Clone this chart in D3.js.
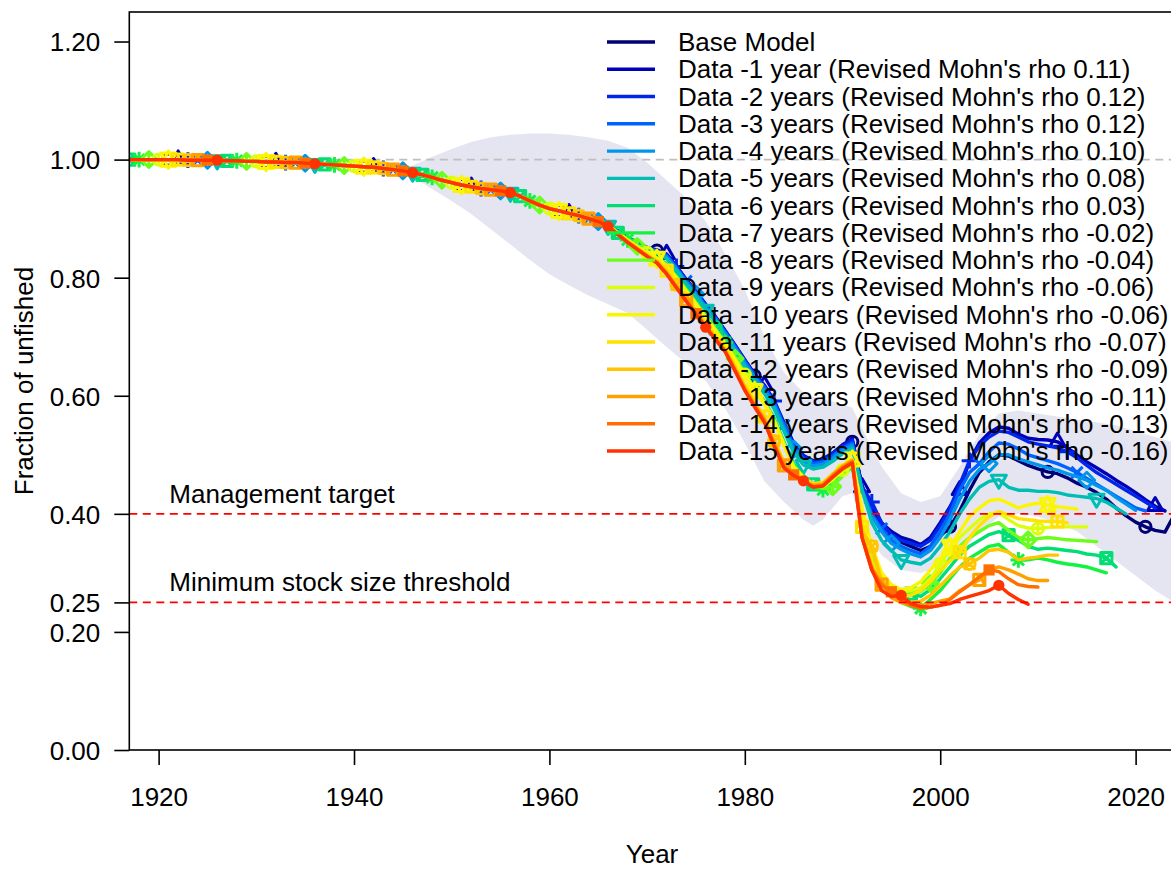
<!DOCTYPE html>
<html>
<head>
<meta charset="utf-8">
<script src="https://cdn.jsdelivr.net/npm/d3@7"></script>
<style>
  body { margin: 0; background: #fff; }
  svg text { font-family: "Liberation Sans", Arial, sans-serif; }
</style>
</head>
<body>
<svg id="chart" width="1171" height="870"></svg>
<script>
// ---------------- DATA ----------------
// Shared history 1917-1965 (all runs coincide)
const commonStartYear = 1917;
const commonValues = [1.000,1.000,1.000,1.000,1.000,1.000,0.999,0.999,0.999,0.999,
  0.998,0.998,0.997,0.997,0.996,0.996,0.995,0.995,0.994,0.993,
  0.992,0.991,0.990,0.989,0.988,0.987,0.985,0.983,0.981,0.978,
  0.974,0.970,0.965,0.961,0.957,0.954,0.951,0.949,0.947,0.944,
  0.938,0.930,0.923,0.917,0.913,0.909,0.905,0.900,0.895];

// Each run from 1966 to its final year
const baseModel = [0.889,0.878,0.867,0.858,0.850,0.846,0.838,0.818,0.795,0.775,0.753,0.732,0.708,0.683,0.658,0.634,0.614,0.588,0.550,0.515,0.495,0.487,0.490,0.500,0.513,0.522,
  0.448,0.405,0.378,0.362,0.352,0.345,0.338,0.345,0.362,0.378,0.405,0.440,0.470,0.488,0.500,0.498,0.490,0.482,0.476,0.471,0.468,0.461,0.452,0.445,0.436,0.425,0.410,0.397,0.386,0.378,0.372,0.369,0.400];
const dataMinus1 = [0.889,0.879,0.868,0.859,0.851,0.847,0.840,0.820,0.797,0.777,0.755,0.734,0.710,0.686,0.661,0.637,0.618,0.592,0.555,0.520,0.499,0.490,0.493,0.503,0.517,0.527,
  0.445,0.410,0.385,0.370,0.360,0.355,0.348,0.360,0.385,0.412,0.440,0.490,0.520,0.537,0.547,0.545,0.535,0.528,0.526,0.525,0.522,0.512,0.500,0.488,0.478,0.468,0.457,0.447,0.436,0.424,0.413,0.405];
const dataMinus2 = [0.889,0.879,0.868,0.859,0.851,0.846,0.839,0.819,0.796,0.776,0.754,0.733,0.709,0.685,0.660,0.636,0.617,0.591,0.553,0.518,0.497,0.489,0.492,0.502,0.515,0.525,
  0.445,0.420,0.385,0.365,0.355,0.350,0.345,0.355,0.380,0.410,0.450,0.490,0.515,0.530,0.540,0.538,0.530,0.522,0.518,0.515,0.512,0.505,0.495,0.482,0.470,0.460,0.450,0.440,0.430,0.420,0.410];
const dataMinus3 = [0.889,0.878,0.867,0.858,0.850,0.845,0.837,0.817,0.794,0.774,0.752,0.731,0.707,0.683,0.658,0.634,0.614,0.588,0.550,0.514,0.493,0.485,0.488,0.498,0.511,0.520,
  0.440,0.400,0.375,0.355,0.345,0.338,0.332,0.345,0.370,0.400,0.440,0.470,0.485,0.505,0.520,0.518,0.510,0.500,0.495,0.490,0.485,0.478,0.470,0.460,0.450,0.440,0.430,0.420,0.410,0.405];
const dataMinus4 = [0.889,0.878,0.867,0.857,0.849,0.844,0.835,0.815,0.792,0.772,0.750,0.729,0.705,0.680,0.655,0.631,0.610,0.584,0.546,0.510,0.489,0.481,0.484,0.494,0.507,0.516,
  0.440,0.395,0.370,0.350,0.340,0.332,0.327,0.338,0.360,0.390,0.425,0.455,0.475,0.485,0.500,0.500,0.493,0.488,0.483,0.478,0.474,0.468,0.463,0.457,0.448,0.440,0.428,0.417,0.406];
const dataMinus5 = [0.888,0.877,0.866,0.856,0.847,0.842,0.832,0.812,0.789,0.768,0.746,0.725,0.701,0.676,0.650,0.626,0.604,0.578,0.540,0.504,0.483,0.476,0.479,0.489,0.502,0.511,
  0.440,0.385,0.355,0.338,0.322,0.318,0.315,0.325,0.345,0.370,0.400,0.425,0.445,0.455,0.458,0.445,0.440,0.440,0.438,0.438,0.436,0.432,0.430,0.428,0.426,0.420,0.410,0.400];
const dataMinus6 = [0.888,0.876,0.864,0.853,0.843,0.835,0.823,0.803,0.781,0.759,0.736,0.714,0.691,0.665,0.639,0.613,0.591,0.562,0.522,0.485,0.465,0.450,0.445,0.450,0.466,0.482,
  0.400,0.335,0.290,0.275,0.268,0.265,0.260,0.272,0.290,0.310,0.330,0.345,0.355,0.365,0.370,0.364,0.355,0.345,0.340,0.342,0.340,0.338,0.336,0.332,0.330,0.325,0.310];
const dataMinus7 = [0.888,0.876,0.864,0.853,0.843,0.834,0.822,0.802,0.780,0.758,0.735,0.713,0.690,0.664,0.638,0.612,0.590,0.560,0.520,0.482,0.462,0.447,0.441,0.448,0.464,0.480,
  0.400,0.330,0.285,0.262,0.250,0.243,0.240,0.255,0.270,0.290,0.310,0.325,0.335,0.345,0.348,0.335,0.322,0.322,0.325,0.322,0.318,0.315,0.313,0.310,0.305,0.300];
const dataMinus8 = [0.888,0.876,0.864,0.853,0.842,0.833,0.821,0.801,0.779,0.757,0.734,0.712,0.689,0.663,0.637,0.611,0.589,0.559,0.519,0.481,0.461,0.447,0.443,0.446,0.466,0.483,
  0.400,0.335,0.290,0.272,0.265,0.265,0.268,0.282,0.300,0.325,0.345,0.360,0.370,0.380,0.385,0.372,0.360,0.356,0.358,0.360,0.358,0.356,0.355,0.354,0.353];
const dataMinus9 = [0.888,0.876,0.864,0.852,0.842,0.833,0.820,0.800,0.778,0.756,0.733,0.711,0.688,0.662,0.636,0.610,0.588,0.558,0.518,0.480,0.462,0.449,0.446,0.458,0.474,0.488,
  0.400,0.340,0.295,0.275,0.268,0.270,0.275,0.290,0.315,0.340,0.360,0.375,0.390,0.400,0.402,0.390,0.380,0.376,0.375,0.377,0.378,0.378,0.378,0.378];
const dataMinus10 = [0.888,0.876,0.863,0.852,0.841,0.832,0.819,0.799,0.777,0.755,0.732,0.710,0.687,0.661,0.634,0.608,0.586,0.556,0.516,0.479,0.462,0.450,0.449,0.462,0.478,0.492,
  0.410,0.345,0.300,0.280,0.272,0.275,0.285,0.305,0.325,0.344,0.370,0.395,0.410,0.422,0.425,0.418,0.410,0.415,0.418,0.415,0.412,0.410,0.408];
const dataMinus11 = [0.887,0.875,0.862,0.850,0.839,0.829,0.812,0.790,0.767,0.745,0.722,0.701,0.680,0.650,0.618,0.590,0.565,0.526,0.488,0.470,0.458,0.451,0.453,0.468,0.482,0.492,
  0.378,0.320,0.280,0.265,0.260,0.262,0.270,0.285,0.305,0.320,0.335,0.360,0.380,0.395,0.404,0.398,0.392,0.390,0.388,0.387,0.387,0.385];
const dataMinus12 = [0.887,0.874,0.861,0.849,0.838,0.828,0.810,0.788,0.765,0.743,0.720,0.699,0.678,0.648,0.615,0.587,0.562,0.523,0.485,0.469,0.457,0.449,0.451,0.467,0.481,0.491,
  0.370,0.345,0.285,0.260,0.252,0.250,0.252,0.262,0.278,0.295,0.310,0.315,0.325,0.338,0.340,0.335,0.322,0.325,0.327,0.330,0.330];
const dataMinus13 = [0.887,0.874,0.861,0.849,0.837,0.826,0.808,0.785,0.762,0.740,0.717,0.697,0.676,0.645,0.612,0.585,0.560,0.520,0.482,0.468,0.456,0.448,0.450,0.466,0.480,0.490,
  0.360,0.310,0.280,0.258,0.250,0.245,0.245,0.248,0.252,0.256,0.270,0.280,0.288,0.305,0.310,0.305,0.298,0.290,0.287,0.287];
const dataMinus14 = [0.887,0.874,0.860,0.848,0.836,0.825,0.807,0.784,0.761,0.739,0.716,0.696,0.675,0.643,0.610,0.583,0.557,0.517,0.480,0.466,0.455,0.446,0.448,0.464,0.478,0.488,
  0.360,0.305,0.280,0.268,0.255,0.245,0.240,0.242,0.245,0.255,0.268,0.280,0.293,0.305,0.302,0.290,0.280,0.277,0.276];
const dataMinus15 = [0.887,0.873,0.860,0.848,0.836,0.825,0.806,0.783,0.760,0.738,0.716,0.695,0.674,0.642,0.609,0.581,0.555,0.515,0.478,0.465,0.456,0.445,0.447,0.462,0.476,0.486,
  0.360,0.305,0.270,0.260,0.262,0.248,0.243,0.242,0.245,0.248,0.255,0.260,0.265,0.270,0.279,0.265,0.255,0.247];

const seriesLabels = ["Base Model",
  "Data -1 year (Revised Mohn's rho 0.11)",
  "Data -2 years (Revised Mohn's rho 0.12)",
  "Data -3 years (Revised Mohn's rho 0.12)",
  "Data -4 years (Revised Mohn's rho 0.10)",
  "Data -5 years (Revised Mohn's rho 0.08)",
  "Data -6 years (Revised Mohn's rho 0.03)",
  "Data -7 years (Revised Mohn's rho -0.02)",
  "Data -8 years (Revised Mohn's rho -0.04)",
  "Data -9 years (Revised Mohn's rho -0.06)",
  "Data -10 years (Revised Mohn's rho -0.06)",
  "Data -11 years (Revised Mohn's rho -0.07)",
  "Data -12 years (Revised Mohn's rho -0.09)",
  "Data -13 years (Revised Mohn's rho -0.11)",
  "Data -14 years (Revised Mohn's rho -0.13)",
  "Data -15 years (Revised Mohn's rho -0.16)"];
const seriesColors = ["#000075","#0000B4","#0026EA","#0063FF","#0096EA","#00BEB4","#02DD75","#13F240",
  "#6CFD1D","#DDFE0B","#FBF504","#FFE201","#FFC500","#FF9F00","#FF6E00","#FF3300"];
const seriesPch = [1,2,3,4,5,6,7,8,9,10,11,12,13,14,15,16];
const seriesValues = [baseModel,dataMinus1,dataMinus2,dataMinus3,dataMinus4,dataMinus5,dataMinus6,dataMinus7,
  dataMinus8,dataMinus9,dataMinus10,dataMinus11,dataMinus12,dataMinus13,dataMinus14,dataMinus15];
const firstPointYear = 1921, spacePoints = 10, staggerPoints = 1;

// Base-model uncertainty interval
const bandYears = [1944,1946,1948,1950,1952,1954,1956,1958,1960,1962,1964,1966,1968,1970,1972,1974,1976,1978,1980,1982,1984,1986,1987,1988,1990,1991,
  1992,1994,1996,1998,2000,2002,2004,2006,2008,2010,2012,2014,2016,2018,2020,2022,2024];
const bandUpper = [0.984,0.990,1.005,1.018,1.030,1.038,1.042,1.044,1.044,1.042,1.038,1.032,1.020,0.995,0.965,0.935,0.895,0.840,0.780,0.700,0.640,0.605,0.598,0.595,0.585,0.580,
  0.545,0.480,0.435,0.420,0.430,0.480,0.535,0.570,0.575,0.570,0.565,0.560,0.555,0.550,0.540,0.530,0.520];
const bandLower = [0.982,0.970,0.950,0.930,0.908,0.882,0.856,0.830,0.806,0.787,0.770,0.755,0.740,0.712,0.682,0.655,0.625,0.578,0.520,0.455,0.420,0.390,0.380,0.390,0.430,0.435,
  0.380,0.330,0.305,0.300,0.310,0.330,0.370,0.395,0.400,0.395,0.385,0.370,0.345,0.320,0.295,0.270,0.250];

const yTicks = [0, 0.2, 0.25, 0.4, 0.6, 0.8, 1.0, 1.2];
const xTicks = [1920, 1940, 1960, 1980, 2000, 2020];
const refLines = [{v: 0.4, label: "Management target"}, {v: 0.25, label: "Minimum stock size threshold"}];

// ---------------- DRAW ----------------
(function () {
const svg = d3.select("#chart");
const FS = 26;
const LW = 3.4;
const pL = 129.3, pR = 1174.7, pT = 12, pB = 750;
const x = d3.scaleLinear().domain([1917, 2024]).range([pL, pR]);
const y = d3.scaleLinear().domain([0, 1.25]).range([pB, pT]);

svg.append("defs").append("clipPath").attr("id", "plotclip")
  .append("rect").attr("x", pL).attr("y", pT).attr("width", pR - pL).attr("height", pB - pT);
const plot = svg.append("g").attr("clip-path", "url(#plotclip)");

// band
const bandData = bandYears.map((yr, i) => ({yr, lo: bandLower[i], hi: bandUpper[i]}));
plot.append("path").datum(bandData)
  .attr("d", d3.area().x(d => x(d.yr)).y0(d => y(d.lo)).y1(d => y(d.hi)))
  .attr("fill", "rgba(0,0,117,0.1)");

// unfished reference line
plot.append("line").attr("x1", pL).attr("x2", pR).attr("y1", y(1)).attr("y2", y(1))
  .attr("stroke", "#BEBEBE").attr("stroke-width", 1.6).attr("stroke-dasharray", "8,5.5");

// symbol generator (R pch)
const RAD = 5.6;
function pchPath(p) {
  const P = d3.path(), R = RAD, s2 = Math.SQRT2;
  const seg = (x1, y1, x2, y2) => { P.moveTo(x1, y1); P.lineTo(x2, y2); };
  const circ = r => { P.moveTo(r, 0); P.arc(0, 0, r, 0, 2 * Math.PI); };
  const sq = r => { P.rect(-r, -r, 2 * r, 2 * r); };
  const plus = r => { seg(-r, 0, r, 0); seg(0, -r, 0, r); };
  const cross = r => { seg(-r, -r, r, r); seg(-r, r, r, -r); };
  const diamond = r => { P.moveTo(-r, 0); P.lineTo(0, -r); P.lineTo(r, 0); P.lineTo(0, r); P.closePath(); };
  const tri = (dir, r, yc, xc) => { P.moveTo(0, -dir * r); P.lineTo(xc, dir * yc); P.lineTo(-xc, dir * yc); P.closePath(); };
  switch (p) {
    case 1: circ(R); break;
    case 2: tri(1, 1.5551 * R, 0.7776 * R, 1.3468 * R); break;
    case 3: plus(s2 * R); break;
    case 4: cross(R); break;
    case 5: diamond(s2 * R); break;
    case 6: tri(-1, 1.5551 * R, 0.7776 * R, 1.3468 * R); break;
    case 7: sq(R); cross(R); break;
    case 8: cross(R); plus(s2 * R); break;
    case 9: plus(s2 * R); diamond(s2 * R); break;
    case 10: circ(R); plus(R); break;
    case 11: { const yc = 0.5 * (0.7776 + 1.5551) * R; tri(1, 1.5551 * R, yc, 1.3468 * R); tri(-1, 1.5551 * R, yc, 1.3468 * R); break; }
    case 12: sq(R); plus(R); break;
    case 13: circ(R); cross(R); break;
    case 14: P.moveTo(0, -R); P.lineTo(R, R); P.lineTo(-R, R); P.closePath(); sq(R); break;
    case 15: sq(R); break;
    case 16: circ(R); break;
  }
  return P.toString();
}

const line = d3.line().x(d => x(d.yr)).y(d => y(d.v));
seriesValues.forEach((vals, k) => {
  const all = commonValues.concat(vals).map((v, i) => ({yr: commonStartYear + i, v}));
  const col = seriesColors[k];
  plot.append("path").datum(all).attr("d", line)
    .attr("fill", "none").attr("stroke", col).attr("stroke-width", LW)
    .attr("stroke-linejoin", "round").attr("stroke-linecap", "round");
  const startYr = firstPointYear + k * staggerPoints;
  const pts = all.filter(d => (((d.yr - startYr) % spacePoints) + spacePoints) % spacePoints === 0);
  const filled = seriesPch[k] >= 15;
  plot.selectAll(null).data(pts).enter().append("path")
    .attr("transform", d => `translate(${x(d.yr)},${y(d.v)})`)
    .attr("d", pchPath(seriesPch[k]))
    .attr("fill", filled ? col : "none")
    .attr("stroke", filled ? "none" : col)
    .attr("stroke-width", 3).attr("stroke-linejoin", "round");
});

// reference lines + labels
refLines.forEach(r => {
  plot.append("line").attr("x1", pL).attr("x2", pR).attr("y1", y(r.v)).attr("y2", y(r.v))
    .attr("stroke", "#FF0000").attr("stroke-width", 1.6).attr("stroke-dasharray", "8,5.5");
  svg.append("text").attr("x", x(1921.1)).attr("y", y(r.v + 0.034) + 9)
    .attr("font-size", FS).attr("fill", "#000").text(r.label);
});

// legend
const lg = svg.append("g");
seriesLabels.forEach((lab, i) => {
  const cy = 42 + i * 27.27;
  lg.append("line").attr("x1", 607).attr("x2", 655).attr("y1", cy).attr("y2", cy)
    .attr("stroke", seriesColors[i]).attr("stroke-width", LW);
  lg.append("text").attr("x", 678).attr("y", cy + 9).attr("font-size", FS).attr("fill", "#000").text(lab);
});

// axes
const yAxis = svg.append("g").attr("transform", `translate(${pL},0)`)
  .call(d3.axisLeft(y).tickValues(yTicks).tickFormat(d3.format(".2f")).tickSize(15).tickPadding(14));
const xAxis = svg.append("g").attr("transform", `translate(0,${pB})`)
  .call(d3.axisBottom(x).tickValues(xTicks).tickFormat(d3.format("d")).tickSize(15).tickPadding(23));
[yAxis, xAxis].forEach(a => {
  a.select(".domain").remove();
  a.selectAll("line").attr("stroke", "#000").attr("stroke-width", 1.6);
  a.selectAll("text").attr("font-size", FS).attr("fill", "#000")
    .style("font-family", "'Liberation Sans', Arial, sans-serif");
});
yAxis.selectAll("text").attr("dy", "0.36em");

// box
svg.append("rect").attr("x", pL).attr("y", pT).attr("width", pR - pL).attr("height", pB - pT)
  .attr("fill", "none").attr("stroke", "#000").attr("stroke-width", 1.6);

// axis titles
svg.append("text").attr("x", (pL + pR) / 2).attr("y", 863).attr("text-anchor", "middle")
  .attr("font-size", FS).text("Year");
svg.append("text").attr("transform", `translate(33,${(pT + pB) / 2}) rotate(-90)`)
  .attr("text-anchor", "middle").attr("font-size", FS).text("Fraction of unfished");
})();
</script>
</body>
</html>
